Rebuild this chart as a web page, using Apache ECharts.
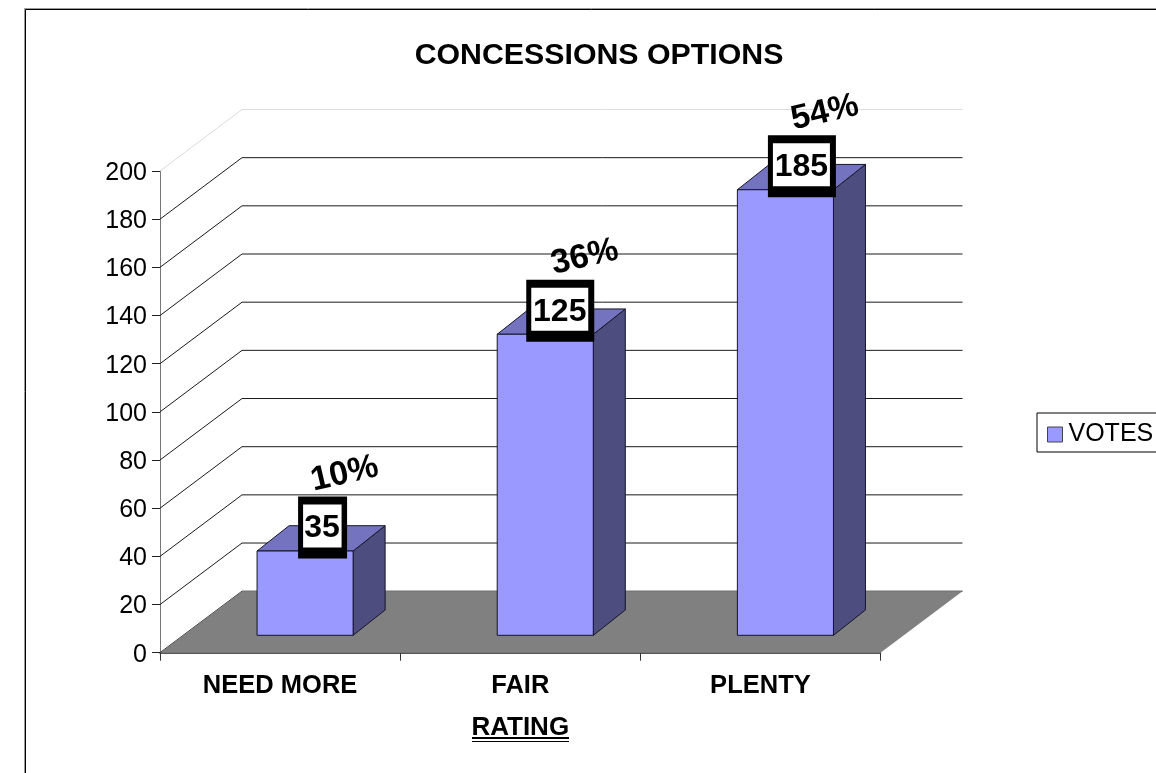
<!DOCTYPE html>
<html>
<head>
<meta charset="utf-8">
<style>html,body{margin:0;padding:0;background:#fff}#c{width:1156px;height:773px}</style>
<script src="https://cdn.jsdelivr.net/npm/echarts@6/dist/echarts.min.js"></script>
</head>
<body>
<div id="c"></div>
<script>
const categories = ['NEED MORE', 'FAIR', 'PLENTY'];
const votes = [35, 125, 185];
const percents = ['10%', '36%', '54%'];
const yTicks = [0, 20, 40, 60, 80, 100, 120, 140, 160, 180, 200];

const FONT = '"Liberation Sans", Arial, sans-serif';
const DX = 82, DY = 61.5;        // oblique depth of the plot box
const BAR_DX = 32, BAR_DY = 25.3; // oblique depth of each bar
const FRONT_X = 25, FRONT_Y = 17.4; // bar front offset inside the floor
const BOX_NUDGE = [1, -1.5, 0];

const chart = echarts.init(document.getElementById('c'), null, {renderer: 'canvas'});

function renderWalls(params, api) {
  const v = api.value(0);
  const a = api.coord([0, v]);
  const size = api.size([1, 0]);
  const x0 = a[0] - size[0] / 2;
  const x1 = x0 + size[0] * categories.length;
  const y = a[1];
  const col = v === 200 ? '#dcdcdc' : '#1a1a1a';
  return {
    type: 'polyline',
    silent: true,
    shape: {points: [[x0, y], [x0 + DX, y - DY], [x1 + DX, y - DY]]},
    style: {stroke: col, lineWidth: 1, fill: null}
  };
}

function renderFloor(params, api) {
  const a = api.coord([0, 0]);
  const size = api.size([1, 0]);
  const x0 = a[0] - size[0] / 2;
  const x1 = x0 + size[0] * categories.length;
  const y = a[1];
  return {
    type: 'polygon',
    silent: true,
    shape: {points: [[x0, y], [x0 + DX, y - DY], [x1 + DX, y - DY], [x1, y]]},
    style: {fill: '#808080', stroke: null}
  };
}

function renderBar(params, api) {
  const cat = api.value(0), val = api.value(1);
  const top = api.coord([cat, val]);
  const base = api.coord([cat, 0]);
  const bw = api.size([1, 0])[0] * 0.4;
  const l = top[0] + FRONT_X - bw / 2, r = l + bw;
  const t = top[1] - FRONT_Y, b = base[1] - FRONT_Y;
  const edge = {stroke: '#15152a', lineWidth: 1};
  const boxX = l + bw / 2 + 16.5 + BOX_NUDGE[params.dataIndex], boxY = t - 23.5;
  const pct = percents[params.dataIndex];
  return {
    type: 'group',
    children: [
      {type: 'polygon', shape: {points: [[r, t], [r + BAR_DX, t - BAR_DY], [r + BAR_DX, b - BAR_DY], [r, b]]},
       style: Object.assign({fill: '#4d4d80'}, edge)},
      {type: 'polygon', shape: {points: [[l, t], [l + BAR_DX, t - BAR_DY], [r + BAR_DX, t - BAR_DY], [r, t]]},
       style: Object.assign({fill: '#7373bf'}, edge)},
      {type: 'rect', shape: {x: l, y: t, width: bw, height: b - t},
       style: Object.assign({fill: '#9999ff'}, edge)},
      {type: 'text', x: l + bw / 2 + 39.5, y: t - 77, rotation: 13 * Math.PI / 180,
       style: {text: pct, font: 'bold 34px ' + FONT, fill: '#000', align: 'center', verticalAlign: 'middle'}},
      {type: 'rect', shape: {x: boxX - (val >= 100 ? 34 : 24.5), y: boxY - 31, width: val >= 100 ? 68 : 49, height: 62},
       style: {fill: '#000'}},
      {type: 'rect', shape: {x: boxX - (val >= 100 ? 29 : 19.5), y: boxY - 23, width: val >= 100 ? 57 : 38.5, height: 43},
       style: {fill: '#fff'}},
      {type: 'text', x: boxX - 0.5, y: boxY + 1,
       style: {text: String(val), font: 'bold 32px ' + FONT, fill: '#000', align: 'center', verticalAlign: 'middle'}}
    ]
  };
}

chart.setOption({
  animation: false,
  backgroundColor: '#fff',
  title: {
    text: 'CONCESSIONS OPTIONS',
    left: 594, top: 36, textAlign: 'center',
    textStyle: {fontFamily: FONT, fontWeight: 'bold', fontSize: 30.3, color: '#000'}
  },
  legend: {
    show: true,
    left: 1037, top: 413,
    padding: [9, 30, 5, 10],
    itemWidth: 15, itemHeight: 15, itemGap: 0,
    borderColor: '#000', borderWidth: 1,
    data: [{name: 'VOTES', icon: 'rect', itemStyle: {color: '#9999ff', borderColor: '#444', borderWidth: 1}}],
    textStyle: {fontFamily: FONT, fontSize: 25, color: '#000', padding: [0, 0, 0, 1]}
  },
  grid: {left: 160, right: 275.5, top: 171, bottom: 120.3, containLabel: false},
  xAxis: {
    type: 'category',
    data: categories,
    boundaryGap: true,
    name: 'RATING',
    nameLocation: 'middle',
    nameGap: 62,
    nameTextStyle: {fontFamily: FONT, fontWeight: 'bold', fontSize: 26, color: '#000'},
    axisLine: {lineStyle: {color: '#222', width: 1.5}},
    axisTick: {show: true, length: 8, alignWithLabel: false, lineStyle: {color: '#333'}},
    axisLabel: {fontFamily: FONT, fontWeight: 'bold', fontSize: 25.5, color: '#000', margin: 20},
    splitLine: {show: false}
  },
  yAxis: {
    type: 'value',
    min: 0, max: 200, interval: 20,
    axisLine: {show: true, lineStyle: {color: '#777', width: 1}},
    axisTick: {show: true, length: 8, lineStyle: {color: '#222'}},
    axisLabel: {fontFamily: FONT, fontSize: 25, color: '#000', margin: 13, verticalAlign: 'top', lineHeight: 4},
    splitLine: {show: false}
  },
  series: [
    {type: 'custom', name: 'walls', silent: true, z: 1, renderItem: renderWalls,
     data: yTicks.map(v => [v]), encode: {y: 0}, clip: false},
    {type: 'custom', name: 'floor', silent: true, z: 2, renderItem: renderFloor,
     data: [[0]], encode: {y: 0}, clip: false},
    {type: 'custom', name: 'VOTES', z: 3, renderItem: renderBar, clip: false,
     itemStyle: {color: '#9999ff'},
     data: votes.map((v, i) => [i, v]), encode: {x: 0, y: 1}}
  ],
  graphic: [
    {type: 'rect', z: -10, silent: true, shape: {x: 24.5, y: 8.5, width: 1200, height: 800},
     style: {fill: null, stroke: '#999', lineWidth: 1}},
    {type: 'rect', z: -9, silent: true, shape: {x: 25.5, y: 9.5, width: 1200, height: 800},
     style: {fill: null, stroke: '#000', lineWidth: 1}},
    {type: 'line', silent: true, shape: {x1: 472, y1: 738, x2: 569, y2: 738}, style: {stroke: '#000', lineWidth: 2}},
    {type: 'line', silent: true, shape: {x1: 472, y1: 741.5, x2: 569, y2: 741.5}, style: {stroke: '#000', lineWidth: 1}}
  ]
});
</script>
</body>
</html>
